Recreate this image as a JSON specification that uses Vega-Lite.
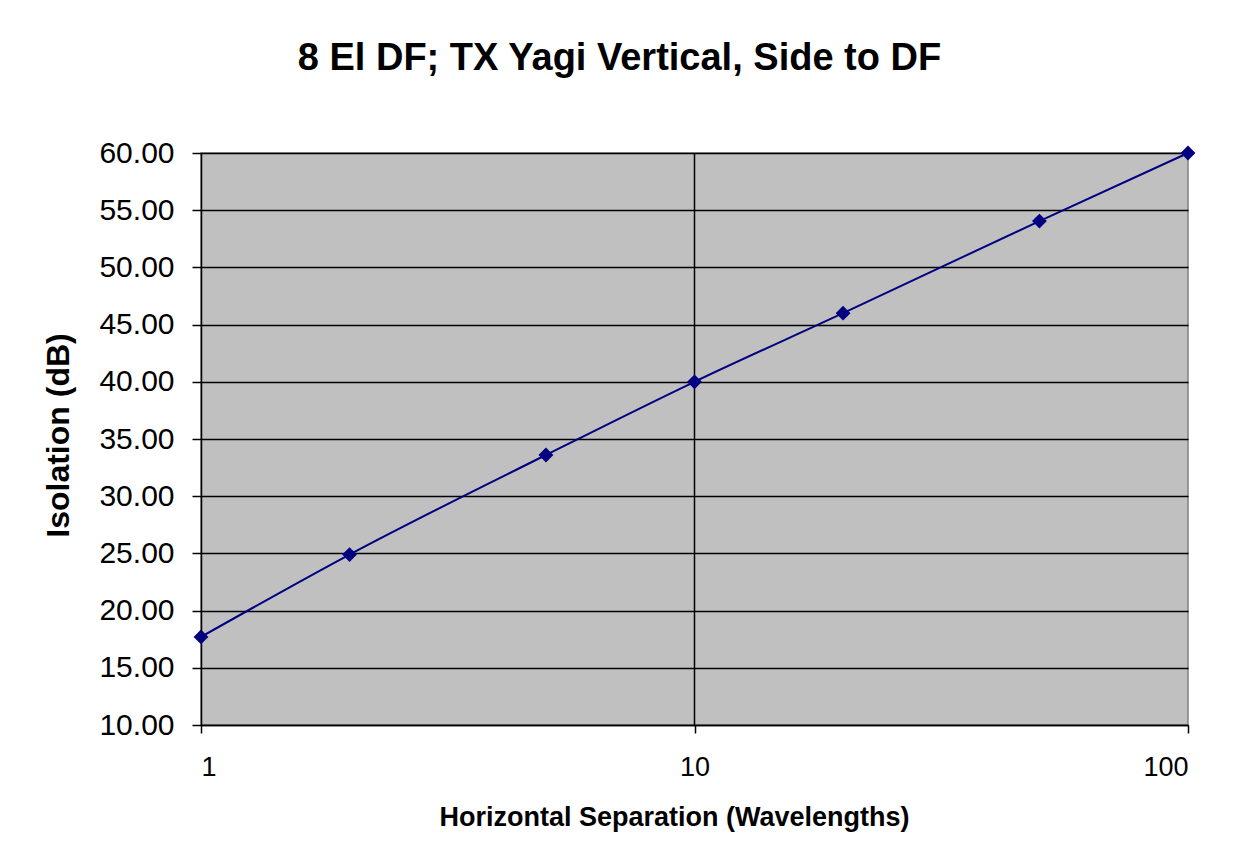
{
  "$schema": "https://vega.github.io/schema/vega-lite/v6.json",
  "autosize": {"type": "none"},
  "padding": {"left": 201, "top": 153, "right": 47, "bottom": 140},
  "width": 987,
  "height": 572,
  "background": "white",
  "title": {
    "text": "8 El DF; TX Yagi Vertical, Side to DF",
    "font": "Liberation Sans",
    "fontSize": 38,
    "fontWeight": "bold",
    "color": "black",
    "anchor": "middle",
    "frame": "group",
    "dx": -75,
    "offset": 60
  },
  "config": {
    "view": {"fill": "#C0C0C0", "stroke": "#808080", "strokeWidth": 1.5},
    "axis": {
      "labelFont": "Liberation Sans",
      "titleFont": "Liberation Sans",
      "labelColor": "black",
      "titleColor": "black",
      "domainColor": "black",
      "tickColor": "black",
      "domainWidth": 1.5,
      "tickWidth": 1.5
    }
  },
  "data": {
    "values": [
      {"separation": 1, "isolation": 17.7},
      {"separation": 2, "isolation": 24.9},
      {"separation": 5, "isolation": 33.6},
      {"separation": 10, "isolation": 40.0},
      {"separation": 20, "isolation": 46.0},
      {"separation": 50, "isolation": 54.05},
      {"separation": 100, "isolation": 60.0}
    ]
  },
  "layer": [
    {
      "data": {"values": [{"g": 10}]},
      "mark": {"type": "rule", "color": "black", "strokeWidth": 1.5},
      "encoding": {
        "x": {"field": "g", "type": "quantitative", "scale": {"type": "log", "domain": [1, 100]}}
      }
    },
    {
      "mark": {"type": "line", "color": "#000080", "strokeWidth": 2, "interpolate": "monotone"},
      "encoding": {
        "x": {
          "field": "separation",
          "type": "quantitative",
          "scale": {"type": "log", "domain": [1, 100], "nice": false},
          "axis": {
            "title": "Horizontal Separation (Wavelengths)",
            "values": [1, 10, 100],
            "format": "d",
            "grid": false,
            "labelFontSize": 27,
            "labelPadding": 21,
            "tickSize": 8,
            "titleFontSize": 27,
            "titleFontWeight": "bold",
            "titlePadding": 24,
            "titleX": 473,
            "titleAlign": "center"
          }
        },
        "y": {
          "field": "isolation",
          "type": "quantitative",
          "scale": {"domain": [10, 60], "nice": false, "zero": false},
          "axis": {
            "title": "Isolation (dB)",
            "values": [10, 15, 20, 25, 30, 35, 40, 45, 50, 55, 60],
            "format": ".2f",
            "grid": true,
            "gridColor": "black",
            "gridWidth": 1.5,
            "gridOpacity": 1,
            "labelFontSize": 30,
            "labelPadding": 18,
            "tickSize": 9,
            "titleFontSize": 32,
            "titleFontWeight": "bold",
            "titlePadding": 23,
            "titleY": 282,
            "titleAlign": "center"
          }
        }
      }
    },
    {
      "mark": {"type": "point", "shape": "diamond", "filled": true, "color": "#000080", "size": 220, "opacity": 1},
      "encoding": {
        "x": {"field": "separation", "type": "quantitative"},
        "y": {"field": "isolation", "type": "quantitative"}
      }
    }
  ]
}
